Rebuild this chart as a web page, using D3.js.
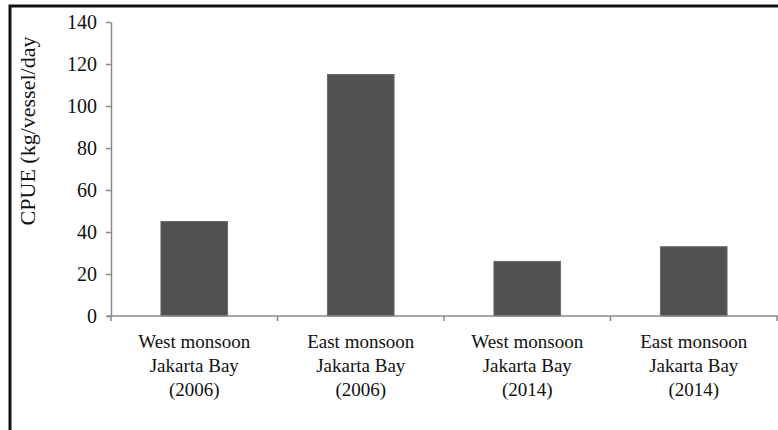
<!DOCTYPE html>
<html>
<head>
<meta charset="utf-8">
<script src="https://cdn.jsdelivr.net/npm/d3@7.9.0/dist/d3.min.js"></script>
<style>
  body { margin: 0; background: #fff; }
  svg { display: block; }
  svg text { font-family: "Liberation Serif", Tinos, "Times New Roman", Times, "DejaVu Serif", serif; }
</style>
</head>
<body>
<svg id="chart" width="778" height="430"></svg>
<script>
const categories = [
  ['West monsoon', 'Jakarta Bay', '(2006)'],
  ['East monsoon', 'Jakarta Bay', '(2006)'],
  ['West monsoon', 'Jakarta Bay', '(2014)'],
  ['East monsoon', 'Jakarta Bay', '(2014)']
];
const cpue = [45, 115, 26, 33];
const yTicks = [0, 20, 40, 60, 80, 100, 120, 140];

const svg = d3.select('#chart');

// frame (top and left edges only show in the picture)
svg.append('path')
  .attr('d', 'M10,430 V6 H778')
  .attr('fill', 'none')
  .attr('stroke', '#111')
  .attr('stroke-width', 3);

const x = d3.scaleBand()
  .domain(d3.range(categories.length))
  .range([111, 777])
  .paddingInner(0.6)
  .paddingOuter(0.3);

const y = d3.scaleLinear().domain([0, 140]).range([316, 22]);

// y axis
const yAxis = svg.append('g')
  .attr('transform', 'translate(111,0)')
  .call(d3.axisLeft(y).tickValues(yTicks).tickSize(5).tickPadding(9).tickSizeOuter(0));
yAxis.attr('font-family', null);
yAxis.select('.domain').attr('stroke', '#8a8a8a').attr('stroke-width', 1.5);
yAxis.selectAll('.tick line').attr('stroke', '#8a8a8a').attr('stroke-width', 1.5);
yAxis.selectAll('.tick text')
  .attr('fill', '#111')
  .style('font-size', '20px');

// bars
svg.selectAll('rect.bar')
  .data(cpue)
  .join('rect')
  .attr('class', 'bar')
  .attr('x', (d, i) => x(i))
  .attr('width', x.bandwidth())
  .attr('y', d => y(d))
  .attr('height', d => y(0) - y(d))
  .attr('fill', '#505050')
  .attr('stroke', '#6a6a6a')
  .attr('stroke-width', 1);

// x axis with ticks at band edges
const step = x.step();
const edges = d3.range(categories.length + 1).map(i => 111 + i * step);
svg.append('line')
  .attr('x1', 107).attr('x2', 778)
  .attr('y1', y(0)).attr('y2', y(0))
  .attr('stroke', '#8a8a8a').attr('stroke-width', 1.5);
svg.selectAll('line.xtick')
  .data(edges)
  .join('line')
  .attr('class', 'xtick')
  .attr('x1', d => d).attr('x2', d => d)
  .attr('y1', y(0)).attr('y2', y(0) + 5)
  .attr('stroke', '#8a8a8a').attr('stroke-width', 1.5);

// category labels
const labels = svg.selectAll('text.cat')
  .data(categories)
  .join('text')
  .attr('class', 'cat')
  .attr('text-anchor', 'middle')
  .attr('fill', '#111')
  .style('font-size', '19px');
labels.selectAll('tspan')
  .data((d, i) => d.map(t => ({ t, i })))
  .join('tspan')
  .attr('x', d => x(d.i) + x.bandwidth() / 2)
  .attr('y', (d, j) => 348 + j * 24)
  .text(d => d.t);

// y label
svg.append('text')
  .attr('transform', 'translate(35,131) rotate(-90)')
  .attr('text-anchor', 'middle')
  .attr('fill', '#111')
  .style('font-size', '22px')
  .text('CPUE (kg/vessel/day');
</script>
</body>
</html>
